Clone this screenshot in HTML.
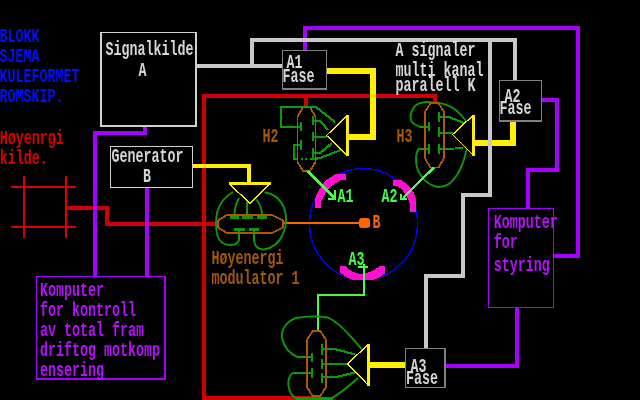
<!DOCTYPE html>
<html><head><meta charset="utf-8"><title>Blokkskjema</title>
<style>
html,body{margin:0;padding:0;background:#000;}
body{width:640px;height:400px;overflow:hidden;}
svg{display:block;}
text{font-family:"Liberation Mono",monospace;font-weight:bold;}
</style></head><body>
<svg width="640" height="400" viewBox="0 0 640 400" shape-rendering="crispEdges">
<rect width="640" height="400" fill="#000"/>
<rect x="202" y="94" width="235" height="4" fill="#d00000"/>
<rect x="202" y="94" width="4" height="306" fill="#d00000"/>
<rect x="202" y="396" width="118" height="4" fill="#d00000"/>
<rect x="304" y="98" width="4" height="8" fill="#d00000"/>
<rect x="433" y="94" width="4" height="8" fill="#d00000"/>
<rect x="66" y="206" width="43" height="4" fill="#d00000"/>
<rect x="105" y="206" width="4" height="20" fill="#d00000"/>
<rect x="105" y="222" width="112" height="4" fill="#d00000"/>
<rect x="11" y="186" width="65" height="2" fill="#dd0000"/>
<rect x="11" y="226" width="65" height="2" fill="#dd0000"/>
<rect x="23" y="176" width="2" height="62" fill="#dd0000"/>
<rect x="65" y="176" width="2" height="62" fill="#dd0000"/>
<rect x="303" y="26" width="4" height="25" fill="#a800ff"/>
<rect x="303" y="26" width="277" height="4" fill="#a800ff"/>
<rect x="576" y="26" width="4" height="232" fill="#a800ff"/>
<rect x="554" y="254" width="26" height="4" fill="#a800ff"/>
<rect x="542" y="98" width="17" height="4" fill="#a800ff"/>
<rect x="555" y="98" width="4" height="74" fill="#a800ff"/>
<rect x="526" y="168" width="33" height="4" fill="#a800ff"/>
<rect x="526" y="168" width="4" height="40" fill="#a800ff"/>
<rect x="515" y="307" width="4" height="61" fill="#a800ff"/>
<rect x="445" y="364" width="74" height="4" fill="#a800ff"/>
<rect x="143" y="126" width="4" height="9" fill="#a800ff"/>
<rect x="93" y="131" width="54" height="4" fill="#a800ff"/>
<rect x="93" y="131" width="4" height="146" fill="#a800ff"/>
<rect x="145" y="187" width="4" height="90" fill="#a800ff"/>
<rect x="327" y="68" width="49" height="6" fill="#fff000"/>
<rect x="370" y="68" width="6" height="72" fill="#fff000"/>
<rect x="349" y="134" width="27" height="6" fill="#fff000"/>
<rect x="193" y="164" width="58" height="4" fill="#fff000"/>
<rect x="247" y="164" width="4" height="19" fill="#fff000"/>
<rect x="510" y="121" width="6" height="25" fill="#fff000"/>
<rect x="475" y="140" width="41" height="6" fill="#fff000"/>
<rect x="369" y="362" width="37" height="6" fill="#fff000"/>
<rect x="196" y="64" width="86" height="4" fill="#c8c8c8"/>
<rect x="250" y="38" width="4" height="30" fill="#c8c8c8"/>
<rect x="250" y="38" width="267" height="4" fill="#c8c8c8"/>
<rect x="513" y="38" width="4" height="43" fill="#c8c8c8"/>
<rect x="488" y="42" width="4" height="155" fill="#c8c8c8"/>
<rect x="461" y="193" width="31" height="4" fill="#c8c8c8"/>
<rect x="461" y="193" width="4" height="85" fill="#c8c8c8"/>
<rect x="424" y="274" width="41" height="4" fill="#c8c8c8"/>
<rect x="424" y="274" width="4" height="75" fill="#c8c8c8"/>
<rect x="101" y="32.5" width="95" height="93.5" fill="#000" stroke="#d0d0d0" stroke-width="1.3"/>
<rect x="110.5" y="146.5" width="82.0" height="41.0" fill="#000" stroke="#d0d0d0" stroke-width="1.3"/>
<rect x="282.5" y="50.5" width="44.0" height="38.5" fill="#000" stroke="#808080" stroke-width="1.3"/>
<rect x="499.5" y="80.5" width="42.0" height="40.5" fill="#000" stroke="#808080" stroke-width="1.3"/>
<rect x="405.5" y="348.5" width="39.5" height="39.0" fill="#000" stroke="#808080" stroke-width="1.3"/>
<rect x="488.5" y="208.7" width="64.79999999999995" height="98.80000000000001" fill="#000" stroke="#a800ff" stroke-width="1.3"/>
<rect x="36.6" y="276.7" width="128.4" height="102.30000000000001" fill="#000" stroke="#a800ff" stroke-width="1.3"/>
<ellipse cx="363.5" cy="224" rx="54" ry="55.5" fill="none" stroke="#0000ff" stroke-width="1.4"/>
<polygon points="315,207.5 315,199 316.2,196 318,192 320,188.5 323,184 326,180.5 330,177.5 334,175 337,173.8 346,173.8 346,180 341,180 339,181.5 335,183.5 331,186.5 328.5,189 326,192.5 324,195.5 322,200 320.8,203 320.8,207.5" fill="#ff10d0"/>
<polygon points="393,180 401,180 405,182.5 408,185 411,188.5 413.5,192.5 415,196 416,199 416,211.5 410,211.5 410,204 409,201 407.5,197.5 405.5,194.5 403,191 400,188 397,186 393,185.5" fill="#ff10d0"/>
<polygon points="340,266.2 340,272.4 344.2,275.7 348,277.9 353,279.75 373.75,279.75 378.1,277.9 382,275.7 384.7,273.5 384.7,266.2 379.2,266.2 377,268 373.75,270.2 368.8,272.4 363.9,273.8 358.4,273.8 353,271.9 349.7,269.7 347,267.5 345.3,266.2" fill="#ff10d0"/>
<rect x="284" y="222" width="80" height="2" fill="#ff6600"/>
<rect x="359" y="218" width="11" height="10" rx="3" ry="3" fill="#ff6600" shape-rendering="geometricPrecision"/>
<rect x="280" y="106.0" width="36" height="2.0" fill="#0a9a0a"/>
<rect x="280.0" y="106" width="2.0" height="22" fill="#0a9a0a"/>
<rect x="280" y="126.0" width="21" height="2.0" fill="#0a9a0a"/>
<rect x="300.0" y="122" width="2.0" height="9" fill="#0a9a0a"/>
<rect x="293" y="144.0" width="8" height="2.0" fill="#0a9a0a"/>
<rect x="300.0" y="140" width="2.0" height="10" fill="#0a9a0a"/>
<rect x="292.5" y="144" width="2.0" height="16" fill="#0a9a0a"/>
<rect x="293" y="158.0" width="5" height="2.0" fill="#0a9a0a"/>
<rect x="301" y="158.0" width="2" height="2.0" fill="#0a9a0a"/>
<rect x="305" y="158.0" width="2" height="2.0" fill="#0a9a0a"/>
<rect x="310" y="158.0" width="4" height="2.0" fill="#0a9a0a"/>
<rect x="312.0" y="116" width="2.0" height="9" fill="#0a9a0a"/>
<rect x="313" y="119.5" width="7" height="2.0" fill="#0a9a0a"/>
<path d="M320 120.5 L328 130" fill="none" stroke="#0a9a0a" stroke-width="2.2" />
<rect x="312.0" y="132" width="2.0" height="9" fill="#0a9a0a"/>
<rect x="313" y="135.5" width="14" height="2.0" fill="#0a9a0a"/>
<rect x="312.0" y="148" width="2.0" height="12" fill="#0a9a0a"/>
<rect x="313" y="152.0" width="7" height="2.0" fill="#0a9a0a"/>
<path d="M320 153 L332 143" fill="none" stroke="#0a9a0a" stroke-width="2.2" />
<path d="M316 107 L335 122" fill="none" stroke="#0a9a0a" stroke-width="2.2" />
<path d="M314 159 L320 158 L341 150" fill="none" stroke="#0a9a0a" stroke-width="2.2" />
<path d="M303.0 107.5 L310.0 107.5 L315.5 116.5 L315.5 162 L310.0 171 L303.0 171 L297.5 162 L297.5 116.5 Z" fill="none" stroke="#a85a08" stroke-width="1.8" />
<path d="M347.5 115 L326.5 135.5 L347.5 155.5" fill="none" stroke="#fff000" stroke-width="1.35" />
<rect x="346.0" y="114.5" width="3.0" height="41.5" fill="#fff000"/>
<path d="M307.5 171 L334.5 198" fill="none" stroke="#44ff44" stroke-width="2.3" />
<rect x="334.3" y="189.5" width="1.7999999999999545" height="10.5" fill="#44ff44"/>
<rect x="328" y="198.39999999999998" width="8" height="1.6000000000000227" fill="#44ff44"/>
<path d="M433 102.5 C424 101 416 103 413 109 C409 116 410 122 415 124.5 L419 126.5" fill="none" stroke="#0a9a0a" stroke-width="1.9"  shape-rendering="geometricPrecision"/>
<rect x="419" y="125.5" width="9" height="2.0" fill="#0a9a0a"/>
<rect x="427.8" y="122" width="2.0" height="9" fill="#0a9a0a"/>
<path d="M437 102.5 C447 104 456 109 461 115 L466 121" fill="none" stroke="#0a9a0a" stroke-width="1.9"  shape-rendering="geometricPrecision"/>
<rect x="427.8" y="144" width="2.0" height="10" fill="#0a9a0a"/>
<rect x="419" y="147.5" width="9" height="2.0" fill="#0a9a0a"/>
<path d="M419 148.5 C415 153 415.5 163 417.5 169 C421 178 428 185 438 187 C446 187.5 452 183 457 175 C462 167 465 158 466.5 149" fill="none" stroke="#0a9a0a" stroke-width="1.9"  shape-rendering="geometricPrecision"/>
<rect x="438.0" y="112" width="2.0" height="9.5" fill="#0a9a0a"/>
<rect x="439" y="115.5" width="9" height="2.0" fill="#0a9a0a"/>
<path d="M448 116.5 L464 123" fill="none" stroke="#0a9a0a" stroke-width="2.2" />
<rect x="438.0" y="127" width="2.0" height="9.5" fill="#0a9a0a"/>
<rect x="439" y="131.5" width="14" height="2.0" fill="#0a9a0a"/>
<rect x="438.0" y="144" width="2.0" height="9.5" fill="#0a9a0a"/>
<rect x="439" y="147.5" width="15" height="2.0" fill="#0a9a0a"/>
<rect x="455" y="146.5" width="8" height="2.0" fill="#0a9a0a"/>
<path d="M430.5 103 L438.5 103 L444 112 L444 158.5 L438.5 167.5 L430.5 167.5 L425 158.5 L425 112 Z" fill="none" stroke="#a85a08" stroke-width="1.8" />
<path d="M473.5 115 L452.5 134.5 L473.5 155.5" fill="none" stroke="#fff000" stroke-width="1.35" />
<rect x="472.0" y="114.5" width="3.0" height="41.5" fill="#fff000"/>
<path d="M434 167.5 L403 198" fill="none" stroke="#44ff44" stroke-width="2.3" />
<rect x="400.40000000000003" y="193.7" width="1.7999999999999545" height="6.300000000000011" fill="#44ff44"/>
<rect x="400.5" y="198.39999999999998" width="6.0" height="1.6000000000000227" fill="#44ff44"/>
<rect x="362.8" y="264" width="2.3999999999999773" height="31.5" fill="#44ff44"/>
<rect x="316.5" y="293.5" width="48.5" height="2.0" fill="#44ff44"/>
<rect x="316.5" y="294" width="2.0" height="37" fill="#44ff44"/>
<rect x="358" y="265.5" width="10" height="2.0" fill="#44ff44"/>
<rect x="310.5" y="352.5" width="2.0" height="9.5" fill="#0a9a0a"/>
<rect x="297" y="356.0" width="14" height="2.0" fill="#0a9a0a"/>
<path d="M297.5 357 C290 354 284 347 282 338 C281 329 287 321 296 318 C306 316 318 316 328 317.5 C338 322 346 331 353 339 L362 349.5" fill="none" stroke="#0a9a0a" stroke-width="1.9"  shape-rendering="geometricPrecision"/>
<rect x="310.5" y="368" width="2.0" height="10" fill="#0a9a0a"/>
<rect x="293" y="371.5" width="18" height="2.0" fill="#0a9a0a"/>
<path d="M293.5 372.5 C288 376 287 384 289.5 390 C291 395 295 398.5 298 399 L330 399 C338 395 348 387 358 378" fill="none" stroke="#0a9a0a" stroke-width="1.9"  shape-rendering="geometricPrecision"/>
<rect x="321.0" y="344" width="2.0" height="11" fill="#0a9a0a"/>
<rect x="322" y="348.0" width="13" height="2.0" fill="#0a9a0a"/>
<path d="M335 349 L355 354.5" fill="none" stroke="#0a9a0a" stroke-width="2.2" />
<rect x="321.0" y="358.5" width="2.0" height="10.0" fill="#0a9a0a"/>
<rect x="322" y="362.5" width="26" height="2.0" fill="#0a9a0a"/>
<rect x="321.0" y="372.5" width="2.0" height="10.0" fill="#0a9a0a"/>
<rect x="322" y="376.0" width="14" height="2.0" fill="#0a9a0a"/>
<path d="M336 377 L355 372.5" fill="none" stroke="#0a9a0a" stroke-width="2.2" />
<rect x="296" y="397" width="37" height="3" fill="#0a9a0a"/>
<path d="M312.5 331 L320.5 331 L326 340 L326 387 L320.5 396 L312.5 396 L307 387 L307 340 Z" fill="none" stroke="#a85a08" stroke-width="1.8" />
<path d="M368 344.5 L347.5 364 L368 385" fill="none" stroke="#fff000" stroke-width="1.35" />
<rect x="366.5" y="344.0" width="3.0" height="41.5" fill="#fff000"/>
<path d="M233 192 C226 196 220 203 217.5 211 C215.5 219 215.5 228 217.5 236 C220 243 226 246 234 244.5 C237 243.5 238.7 242 238.7 240" fill="none" stroke="#0a9a0a" stroke-width="1.9"  shape-rendering="geometricPrecision"/>
<rect x="237.7" y="229" width="2.0" height="12" fill="#0a9a0a"/>
<rect x="234" y="228" width="10.5" height="3" fill="#0a9a0a"/>
<path d="M264.5 192.5 C274 193.5 281 200 284.5 209 C287 217 286.5 226 283 234 C279.5 242 273 248 264 249.5 C258 249.5 254.5 246 254 240" fill="none" stroke="#0a9a0a" stroke-width="1.9"  shape-rendering="geometricPrecision"/>
<rect x="253.0" y="229" width="2.0" height="12" fill="#0a9a0a"/>
<rect x="249" y="228" width="10" height="3" fill="#0a9a0a"/>
<rect x="229.5" y="216" width="9.5" height="3" fill="#0a9a0a"/>
<path d="M234.25 217 C234.5 210 236 203 239 198" fill="none" stroke="#0a9a0a" stroke-width="1.9"  shape-rendering="geometricPrecision"/>
<rect x="242" y="216" width="10.5" height="3" fill="#0a9a0a"/>
<rect x="246.3" y="202" width="2.0" height="15" fill="#0a9a0a"/>
<rect x="256.5" y="216" width="10.5" height="3" fill="#0a9a0a"/>
<path d="M262.4 217 C262 210 260 204 256.5 199.5" fill="none" stroke="#0a9a0a" stroke-width="1.9"  shape-rendering="geometricPrecision"/>
<path d="M227 215 L272 215 L283 220.5 L283 227.5 L272 233 L227 233 L218 227.5 L218 220.5 Z" fill="none" stroke="#a85a08" stroke-width="1.9" />
<rect x="228.5" y="182" width="42.0" height="2.5" fill="#fff000"/>
<path d="M229.5 184 L250 203.5 L269.5 184" fill="none" stroke="#fff000" stroke-width="1.35" />
<g style="will-change:opacity;opacity:0.99">
<text x="372.4" y="228" fill="#ff6600" font-size="21" textLength="8" lengthAdjust="spacingAndGlyphs">B</text>
<text x="-0.6" y="42" fill="#0010ff" font-size="21" textLength="40" lengthAdjust="spacingAndGlyphs">BLOKK</text>
<text x="-0.6" y="62" fill="#0010ff" font-size="21" textLength="40" lengthAdjust="spacingAndGlyphs">SJEMA</text>
<text x="-0.6" y="82" fill="#0010ff" font-size="21" textLength="80" lengthAdjust="spacingAndGlyphs">KULEFORMET</text>
<text x="-0.6" y="102" fill="#0010ff" font-size="21" textLength="64" lengthAdjust="spacingAndGlyphs">ROMSKIP.</text>
<text x="-0.2" y="143.5" fill="#dd0000" font-size="21" textLength="64" lengthAdjust="spacingAndGlyphs">Høyenrgi</text>
<text x="-0.2" y="163.5" fill="#dd0000" font-size="21" textLength="48" lengthAdjust="spacingAndGlyphs">kilde.</text>
<text x="105.4" y="55.3" fill="#d8d8d8" font-size="21" textLength="88" lengthAdjust="spacingAndGlyphs">Signalkilde</text>
<text x="138.4" y="75.8" fill="#d8d8d8" font-size="21" textLength="8" lengthAdjust="spacingAndGlyphs">A</text>
<text x="111.4" y="161.6" fill="#d8d8d8" font-size="21" textLength="72" lengthAdjust="spacingAndGlyphs">Generator</text>
<text x="142.9" y="182" fill="#d8d8d8" font-size="21" textLength="8" lengthAdjust="spacingAndGlyphs">B</text>
<text x="286.4" y="67.5" fill="#d8d8d8" font-size="21" textLength="16" lengthAdjust="spacingAndGlyphs">A1</text>
<text x="282.4" y="82" fill="#d8d8d8" font-size="21" textLength="32" lengthAdjust="spacingAndGlyphs">Fase</text>
<text x="504.4" y="101.5" fill="#d8d8d8" font-size="21" textLength="16" lengthAdjust="spacingAndGlyphs">A2</text>
<text x="499.4" y="114" fill="#d8d8d8" font-size="21" textLength="32" lengthAdjust="spacingAndGlyphs">Fase</text>
<text x="410.4" y="371.5" fill="#d8d8d8" font-size="21" textLength="16" lengthAdjust="spacingAndGlyphs">A3</text>
<text x="405.9" y="384" fill="#d8d8d8" font-size="21" textLength="32" lengthAdjust="spacingAndGlyphs">Fase</text>
<text x="395.4" y="55.5" fill="#d8d8d8" font-size="21" textLength="80" lengthAdjust="spacingAndGlyphs">A signaler</text>
<text x="395.4" y="75.7" fill="#d8d8d8" font-size="21" textLength="88" lengthAdjust="spacingAndGlyphs">multi kanal</text>
<text x="395.4" y="91.2" fill="#d8d8d8" font-size="21" textLength="80" lengthAdjust="spacingAndGlyphs">paralell K</text>
<text x="262.4" y="142" fill="#a85a08" font-size="21" textLength="16" lengthAdjust="spacingAndGlyphs">H2</text>
<text x="396.4" y="142" fill="#a85a08" font-size="21" textLength="16" lengthAdjust="spacingAndGlyphs">H3</text>
<text x="211.4" y="263.5" fill="#a85a08" font-size="21" textLength="72" lengthAdjust="spacingAndGlyphs">Høyenergi</text>
<text x="211.4" y="283.5" fill="#a85a08" font-size="21" textLength="88" lengthAdjust="spacingAndGlyphs">modulator 1</text>
<text x="337.4" y="201.5" fill="#44ff44" font-size="21" textLength="16" lengthAdjust="spacingAndGlyphs">A1</text>
<text x="381.4" y="201.5" fill="#44ff44" font-size="21" textLength="16" lengthAdjust="spacingAndGlyphs">A2</text>
<text x="348.4" y="264.5" fill="#44ff44" font-size="21" textLength="16" lengthAdjust="spacingAndGlyphs">A3</text>
<text x="493.8" y="227.5" fill="#b810ff" font-size="21" textLength="64" lengthAdjust="spacingAndGlyphs">Komputer</text>
<text x="493.8" y="247.5" fill="#b810ff" font-size="21" textLength="24" lengthAdjust="spacingAndGlyphs">for</text>
<text x="493.8" y="271.2" fill="#b810ff" font-size="21" textLength="56" lengthAdjust="spacingAndGlyphs">styring</text>
<text x="40.0" y="295.6" fill="#b810ff" font-size="21" textLength="64" lengthAdjust="spacingAndGlyphs">Komputer</text>
<text x="40.0" y="315.6" fill="#b810ff" font-size="21" textLength="96" lengthAdjust="spacingAndGlyphs">for kontroll</text>
<text x="40.0" y="335.6" fill="#b810ff" font-size="21" textLength="104" lengthAdjust="spacingAndGlyphs">av total fram</text>
<text x="40.0" y="355.6" fill="#b810ff" font-size="21" textLength="120" lengthAdjust="spacingAndGlyphs">driftog motkomp</text>
<text x="40.0" y="375.6" fill="#b810ff" font-size="21" textLength="64" lengthAdjust="spacingAndGlyphs">ensering</text>
</g>
</svg>
</body></html>
